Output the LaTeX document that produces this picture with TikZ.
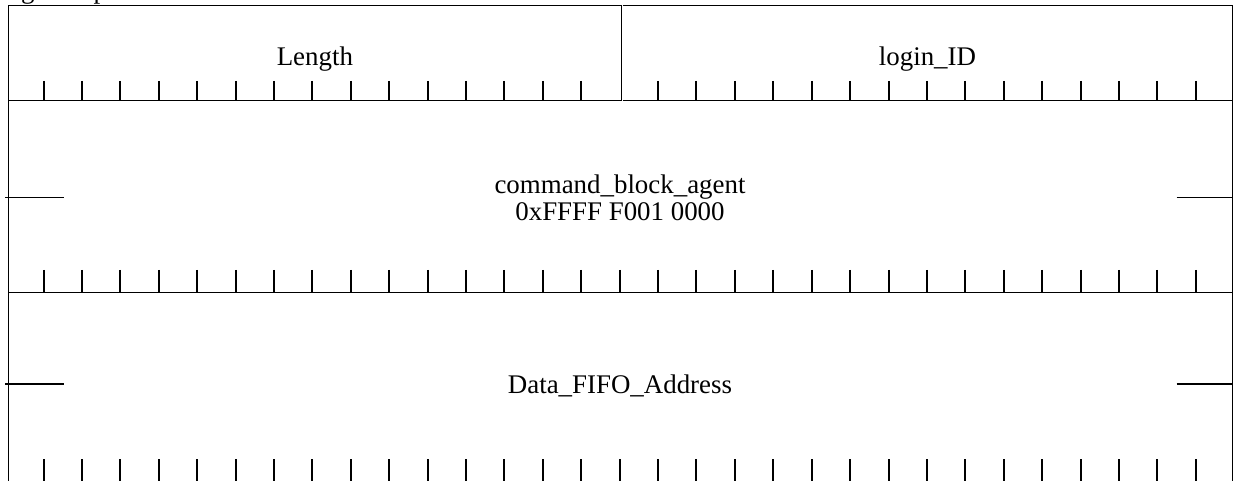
\documentclass[tikz,border=0pt]{standalone}
\usepackage{fontspec}
\setmainfont{Liberation Serif}
\begin{document}
\begin{tikzpicture}[x=1bp,y=-1bp,
  frame/.style={line width=1.2bp},
  tickmark/.style={line width=2bp},
  stub/.style={line width=1.6bp},
  lbl/.style={anchor=base,inner sep=0pt,font=\fontsize{27}{26}\selectfont}]
\useasboundingbox (0,0) rectangle (1233,481);
\clip (0,0) rectangle (1233,481);
\node[lbl, anchor=base west] (cap) at (0,-1) {login response};
% frame
\draw[frame] (8.3,5.3) -- (621.7,5.3);
\draw[frame] (622.7,5.3) -- (1232.3,5.3);
\draw[frame] (8.3,5.3) -- (8.3,481);
\draw[frame] (1232.3,5.3) -- (1232.3,481);
\draw[frame] (621.7,5.3) -- (621.7,100.7);
\draw[frame] (8.3,100.7) -- (621.7,100.7);
\draw[frame] (622.7,100.7) -- (1232.3,100.7);
\draw[frame] (8.3,292.3) -- (1232.3,292.3);
% ticks row 1
\foreach \k in {0,...,14} \draw[tickmark] ({43.5+38.41*\k},81) -- ++(0,19.7);
\foreach \k in {16,...,30} \draw[tickmark] ({43.5+38.41*\k},81) -- ++(0,19.7);
% ticks row 2 and 3
\foreach \k in {0,...,30} \draw[tickmark] ({43.5+38.41*\k},270) -- ++(0,22.3);
\foreach \k in {0,...,30} \draw[tickmark] ({43.5+38.41*\k},459) -- ++(0,22);
% stubs
\draw[stub] (5,197.7) -- (64,197.7);
\draw[stub] (1176.7,197.7) -- (1232.3,197.7);
\draw[stub] (5,384) -- (64,384);
\draw[stub] (1176.7,384) -- (1232.3,384);
% labels
\node[lbl] (len) at (314.9,65.5) {Length};
\node[lbl] (lid) at (927.5,65.5) {login\_ID};
\node[lbl] (cba) at (620,194) {command\_block\_agent};
\node[lbl] (addr) at (620,221) {0xFFFF F001 0000};
\node[lbl] (dfa) at (620,393) {Data\_FIFO\_Address};
\end{tikzpicture}
\end{document}
